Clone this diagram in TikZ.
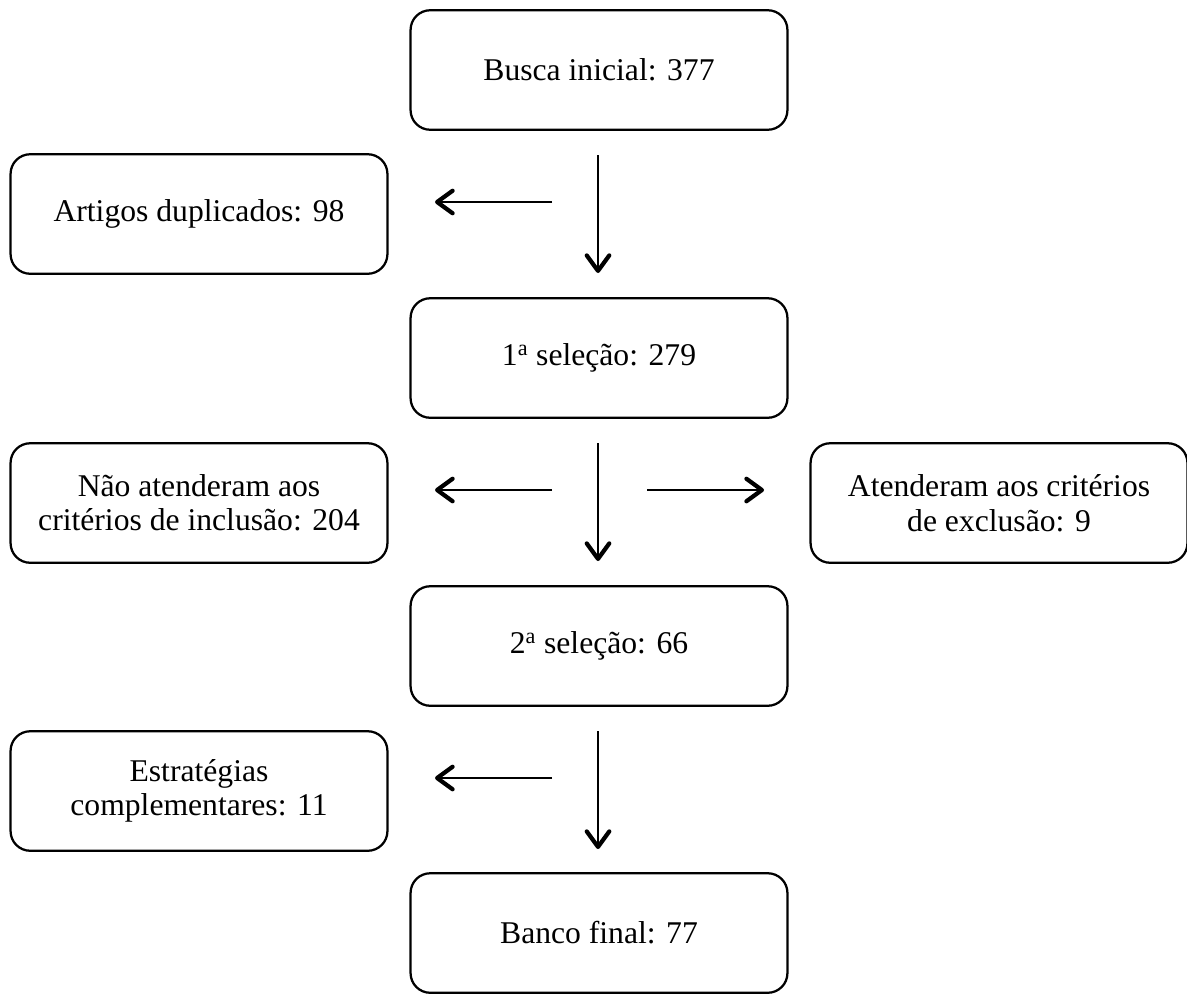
\documentclass[tikz,border=0pt]{standalone}
\usepackage{fontspec}
\setmainfont{Liberation Serif}
\usepackage{tikz}
\usetikzlibrary{arrows.meta}

\tikzset{
  stagebox/.style={draw, line width=1.6pt, rounded corners=14pt,
    minimum width=268pt, minimum height=85pt, align=center,
    font=\fontsize{22.5}{24.5}\selectfont, inner sep=0pt},
  flowarrow/.style={line width=1.4pt,
    -{Straight Barb[length=11pt, width=16pt, line width=3pt, round]}}
}

\begin{document}
\begin{tikzpicture}[x=0.025cm, y=-0.025cm]
 \useasboundingbox (0,0) rectangle (1187,994);
 % stages
 \node[stagebox] (busca) at (599,70)  {Busca inicial: 377};
 \node[stagebox] (dup)   at (199,214) {Artigos duplicados: 98};
 \node[stagebox] (sel1)  at (599,358) {1\textsuperscript{a} seleção: 279};
 \node[stagebox] (naoinc) at (199,503) {Não atenderam aos\\critérios de inclusão: 204};
 \node[stagebox] (excl)  at (999,503) {Atenderam aos critérios\\de exclusão: 9};
 \node[stagebox] (sel2)  at (599,646) {2\textsuperscript{a} seleção: 66};
 \node[stagebox] (estr)  at (199,791) {Estratégias\\complementares: 11};
 \node[stagebox] (banco) at (599,933) {Banco final: 77};
 % arrow ends
 \coordinate (v1a) at (598,155); \coordinate (v1b) at (598,273);
 \coordinate (v2a) at (598,443); \coordinate (v2b) at (598,561);
 \coordinate (v3a) at (598,731); \coordinate (v3b) at (598,849);
 \coordinate (h1a) at (552,202); \coordinate (h1b) at (435,202);
 \coordinate (h2a) at (552,490); \coordinate (h2b) at (435,490);
 \coordinate (h3a) at (647,490); \coordinate (h3b) at (764,490);
 \coordinate (h4a) at (552,778); \coordinate (h4b) at (435,778);
 \draw[flowarrow] (v1a) -- (v1b);
 \draw[flowarrow] (v2a) -- (v2b);
 \draw[flowarrow] (v3a) -- (v3b);
 \draw[flowarrow] (h1a) -- (h1b);
 \draw[flowarrow] (h2a) -- (h2b);
 \draw[flowarrow] (h3a) -- (h3b);
 \draw[flowarrow] (h4a) -- (h4b);
\end{tikzpicture}
\end{document}
